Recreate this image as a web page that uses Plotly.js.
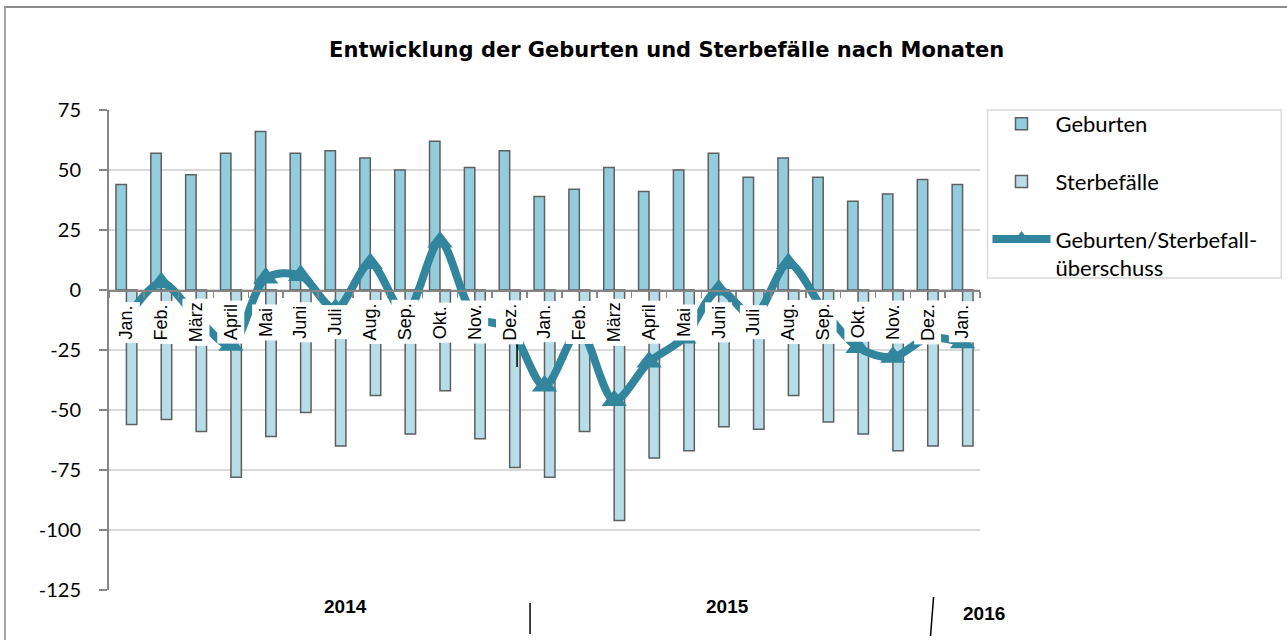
<!DOCTYPE html>
<html>
<head>
<meta charset="utf-8">
<script src="https://cdn.plot.ly/plotly-3.0.1.min.js"></script>
<style>
  html, body { margin: 0; padding: 0; background: #ffffff; }
  #chart { width: 1287px; height: 640px; }
  #frame { position: absolute; left: 4px; top: 6px; width: 1300px; height: 700px;
           border-top: 2px solid #8c8c8c; border-left: 2px solid #a6a6a6; pointer-events: none; }
</style>
</head>
<body>
<div id="chart"></div>
<div id="frame"></div>
<script>
// ---- data ----
const months = ["Jan.","Feb.","März","April","Mai","Juni","Juli","Aug.","Sep.","Okt.","Nov.","Dez.",
                "Jan.","Feb.","März","April","Mai","Juni","Juli","Aug.","Sep.","Okt.","Nov.","Dez.","Jan."];
const years = ["2014", "2015", "2016"];
const births = [44,57,48,57,66,57,58,55,50,62,51,58,39,42,51,41,50,57,47,55,47,37,40,46,44];
const deaths = [-56,-54,-59,-78,-61,-51,-65,-44,-60,-42,-62,-74,-78,-59,-96,-70,-67,-57,-58,-44,-55,-60,-67,-65,-65];
const surplus = [-12,3,-11,-23,5,6,-8,11,-10,20,-11,-16,-40,-17,-46,-30,-20,0,-11,11,-8,-24,-28,-20,-22];
const yTickValues = [-125,-100,-75,-50,-25,0,25,50,75];
const yTickLabels = ["-125","-100","-75","-50","-25","0","25","50","75"];
const seriesNames = ["Geburten", "Sterbefälle", "Geburten/Sterbefall-<br>überschuss"];

// ---- build ----
const idx = months.map((m, i) => i);
const boundaries = months.map((m, i) => i - 0.5).concat([months.length - 0.5]);

const traces = [
  { type: "bar", x: idx, y: births, name: seriesNames[0], legendgroup: "a",
    marker: { color: "#93CDDD", line: { color: "#5f5f5f", width: 1.5 } } },
  { type: "bar", x: idx, y: deaths, name: seriesNames[1], legendgroup: "b",
    marker: { color: "#B7DEE8", line: { color: "#5f5f5f", width: 1.5 } } },
  { type: "scatter", mode: "lines+markers", x: idx, y: surplus, name: seriesNames[2], legendgroup: "c",
    line: { color: "#31859C", width: 8, shape: "spline", smoothing: 0.9 },
    marker: { symbol: "triangle-up", size: 22, color: "#31859C" } }
];

const annotations = months.map((m, i) => ({
  x: i, xref: "x", y: 0.558, yref: "paper", text: m, textangle: -90, showarrow: false,
  xanchor: "center", yanchor: "middle", bgcolor: "#ffffff", borderpad: 3,
  font: { family: "Liberation Sans, Arial, sans-serif", size: 18, color: "#000000" }
}));
const yearPos = [[0.271, -0.035], [0.710, -0.035], [1.005, -0.048]];
years.forEach((yr, k) => annotations.push({
  x: yearPos[k][0], y: yearPos[k][1], xref: "paper", yref: "paper", text: "<b>" + yr + "</b>",
  showarrow: false, xanchor: "center", yanchor: "middle",
  font: { family: "Liberation Sans, Arial, sans-serif", size: 19, color: "#000000" }
}));

const layout = {
  width: 1287, height: 640,
  margin: { l: 108.5, r: 306.5, t: 110, b: 50 },
  paper_bgcolor: "#ffffff", plot_bgcolor: "#ffffff",
  title: { text: "<b>Entwicklung der Geburten und Sterbefälle nach Monaten</b>",
           font: { family: "DejaVu Sans, sans-serif", size: 21, color: "#000000" },
           xref: "container", x: 0.518, xanchor: "center", yref: "container", y: 0.923, yanchor: "middle" },
  barmode: "group", bargap: 0.4, bargroupgap: 0,
  showlegend: true,
  legend: { x: 1.0086, xanchor: "left", y: 1.0146, yanchor: "top", traceorder: "grouped",
            tracegroupgap: 26, itemwidth: 58, valign: "top",
            bgcolor: "rgba(0,0,0,0)", borderwidth: 0,
            font: { family: "Lato, Carlito, sans-serif", size: 22, color: "#000000" } },
  xaxis: { range: [-0.5, months.length - 0.5], anchor: "free", position: 0.625,
           showline: true, linecolor: "#868686", linewidth: 1.5,
           ticks: "outside", ticklen: 6, tickwidth: 1.5, tickcolor: "#868686",
           tickmode: "array", tickvals: boundaries, showticklabels: false,
           showgrid: false, zeroline: false, fixedrange: true },
  xaxis2: { range: [-0.5, months.length - 0.5], overlaying: "x", anchor: "free", position: 0.625,
            showline: false, ticks: "inside", ticklen: 6, tickwidth: 1.5, tickcolor: "#868686",
            tickmode: "array", tickvals: boundaries, showticklabels: false,
            showgrid: false, zeroline: false },
  yaxis: { range: [-125, 75], tickmode: "array", tickvals: yTickValues, ticktext: yTickLabels,
           showline: true, linecolor: "#868686", linewidth: 2,
           ticks: "outside", ticklen: 8, tickwidth: 2, tickcolor: "#868686", ticklabelstandoff: 14,
           gridcolor: "#d9d9d9", gridwidth: 1.5, zeroline: false,
           tickfont: { family: "Lato, Carlito, sans-serif", size: 20, color: "#000000" } },
  annotations: annotations,
  shapes: [
    { type: "rect", xref: "paper", yref: "paper", x0: 1.0086, x1: 1.3458, y0: 0.65, y1: 1.0,
      line: { color: "#d9d9d9", width: 1.5 }, fillcolor: "rgba(0,0,0,0)" },
    { type: "line", xref: "paper", yref: "paper", x0: 0.4834, x1: 0.4834, y0: -0.027, y1: -0.0917,
      line: { color: "#000000", width: 1.5 } },
    { type: "line", xref: "paper", yref: "paper", x0: 0.9467, x1: 0.9432, y0: -0.0146, y1: -0.0958,
      line: { color: "#000000", width: 1.5 } },
    { type: "line", xref: "paper", yref: "paper", x0: 0.4685, x1: 0.4685, y0: 0.531, y1: 0.4646,
      line: { color: "#000000", width: 1.5 } }
  ]
};

Plotly.newPlot("chart", traces, layout, { displayModeBar: false, staticPlot: true });
</script>
</body>
</html>
